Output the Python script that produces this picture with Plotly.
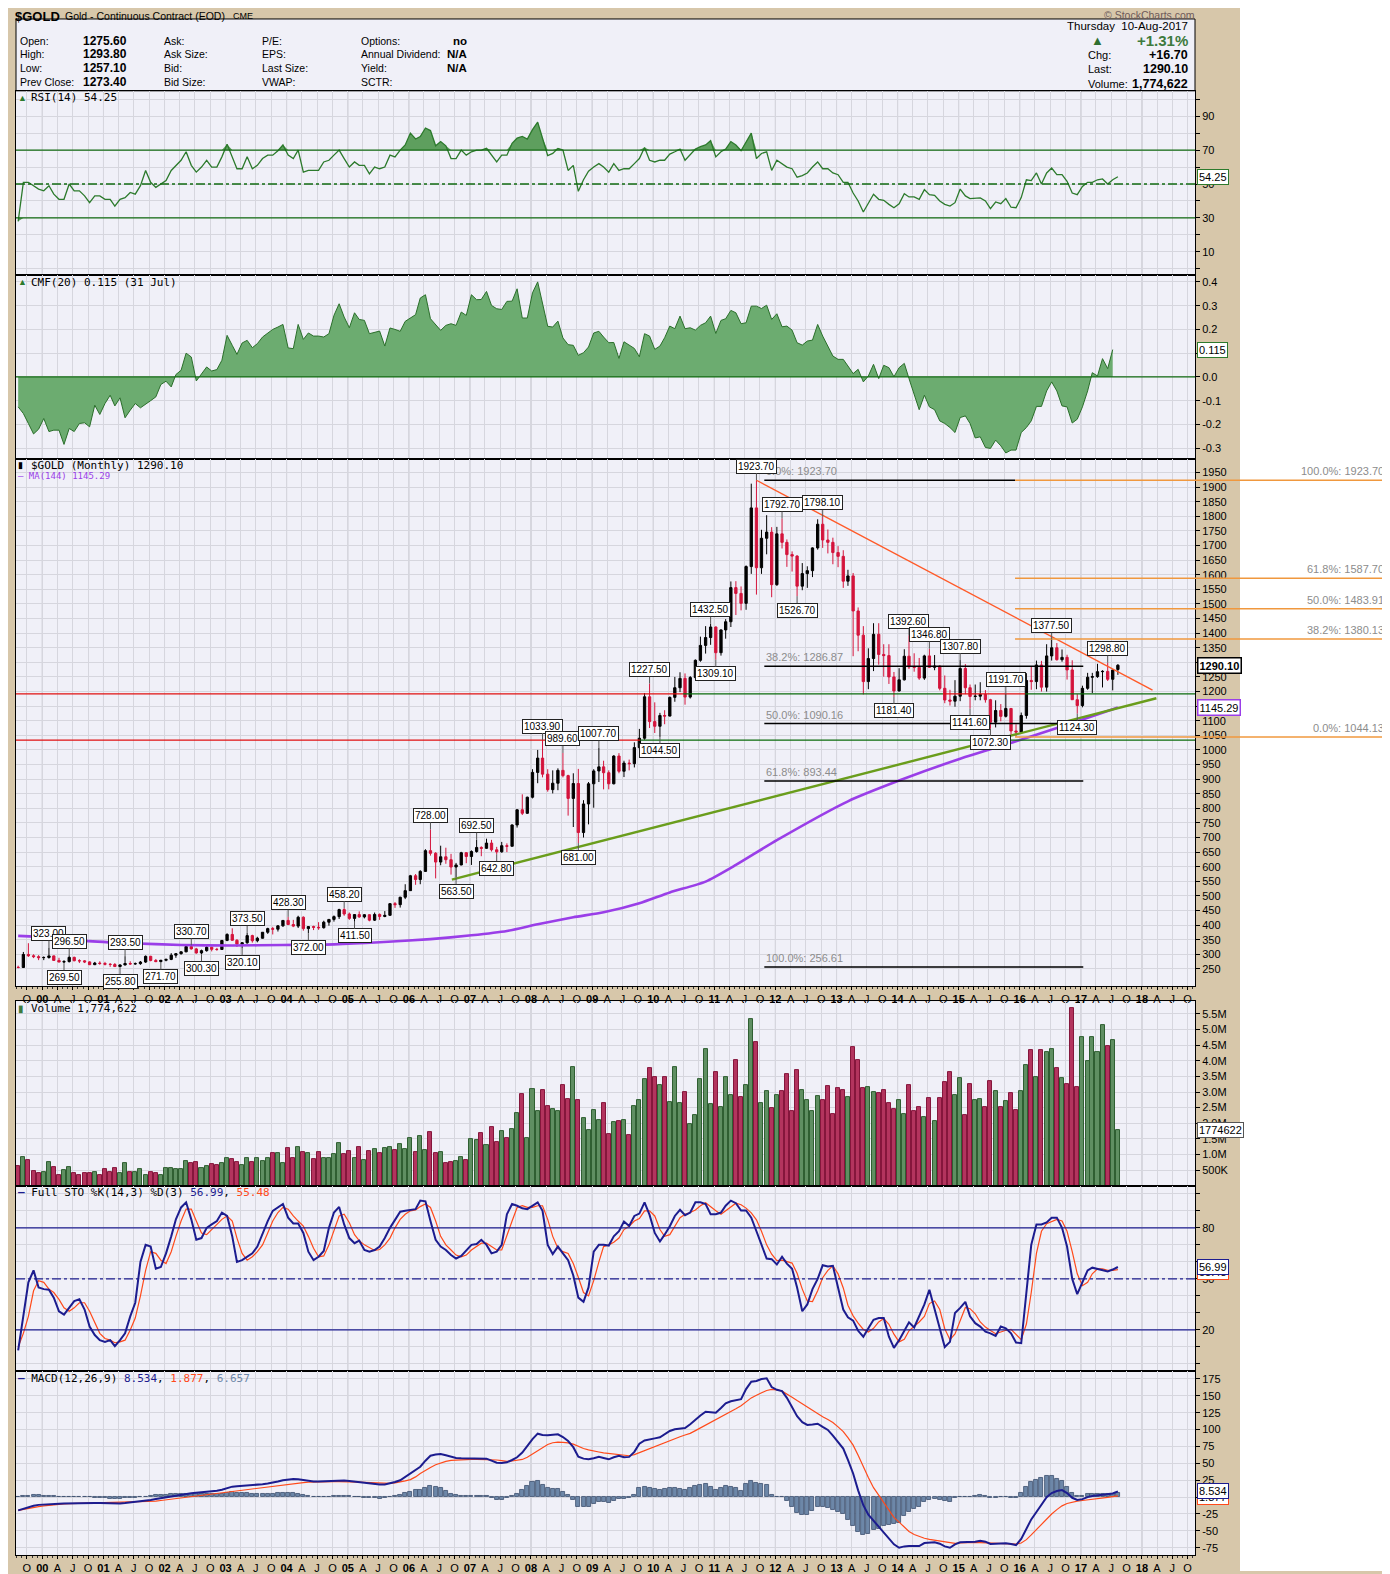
import numpy as np
import pandas as pd
import plotly.graph_objects as go
from plotly.subplots import make_subplots

# the page body adds an 8px margin, so the figure is laid out in page pixels minus that offset
OFF = 8
W, H = 1390 - OFF, 1574 - OFF
SANS = "Liberation Sans, Arial, sans-serif"
MONO = "DejaVu Sans Mono, monospace"


def fx(x):
    return (x - OFF) / W


def fy(y):
    return 1 - (y - OFF) / H


# ---------------- data: $GOLD monthly bars, Aug 1999 .. Aug 2017 ----------------
months = pd.date_range("1999-08-01", "2017-08-01", freq="MS") + pd.Timedelta(days=9)

opens = [
    255.5, 254.8, 299.5, 295.0, 292.0,
    288.5, 289.0, 294.5, 279.0, 273.5, 275.0, 289.5, 278.0, 277.5, 274.0, 264.5, 270.0,
    268.5, 266.0, 265.0, 258.0, 263.5, 268.5, 267.0, 268.0, 273.5, 293.0, 279.0, 275.0,
    279.5, 282.5, 297.0, 302.0, 308.5, 326.5, 318.5, 304.5, 312.5, 324.0, 317.0, 316.5,
    347.5, 368.0, 348.0, 335.0, 339.5, 364.0, 346.5, 355.0, 375.5, 388.0, 386.0, 397.5,
    416.0, 402.0, 396.5, 427.0, 388.0, 395.0, 392.5, 391.0, 410.0, 419.5, 429.0, 453.0,
    438.0, 423.0, 436.0, 428.0, 435.5, 417.0, 436.5, 429.5, 433.5, 473.5, 470.0, 495.5,
    518.0, 569.0, 556.0, 584.0, 655.0, 646.0, 616.0, 634.0, 624.0, 599.0, 606.0, 648.0,
    635.0, 652.0, 666.0, 663.0, 681.0, 658.0, 651.0, 672.0, 670.0, 743.0, 795.0, 783.0,
    838.0, 923.0, 972.0, 917.0, 864.0, 886.0, 930.0, 912.0, 834.0, 885.0, 717.0, 815.0,
    884.0, 928.0, 942.0, 922.0, 884.0, 979.0, 927.0, 955.0, 953.0, 1008.0, 1040.0, 1182.0,
    1097.0, 1081.0, 1118.0, 1116.0, 1180.0, 1213.0, 1245.0, 1181.0, 1248.0, 1307.0, 1358.0, 1385.0,
    1421.0, 1333.0, 1411.0, 1439.0, 1556.0, 1536.0, 1502.0, 1628.0, 1829.0, 1624.0, 1725.0, 1746.0,
    1566.0, 1740.0, 1711.0, 1669.0, 1664.0, 1561.0, 1604.0, 1614.0, 1692.0, 1773.0, 1719.0, 1711.0,
    1676.0, 1663.0, 1578.0, 1596.0, 1476.0, 1393.0, 1234.0, 1313.0, 1396.0, 1327.0, 1323.0, 1250.0,
    1202.0, 1240.0, 1321.0, 1284.0, 1283.0, 1246.0, 1322.0, 1283.0, 1287.0, 1211.0, 1171.0, 1167.0,
    1184.0, 1279.0, 1213.0, 1183.0, 1184.0, 1190.0, 1172.0, 1095.0, 1135.0, 1115.0, 1142.0, 1065.0,
    1061.0, 1118.0, 1238.0, 1234.0, 1291.0, 1215.0, 1322.0, 1350.0, 1309.0, 1317.0, 1274.0, 1172.0,
    1152.0, 1211.0, 1249.0, 1251.0, 1268.0, 1269.0, 1242.0, 1275.6,
]
highs = [
    261, 308, 338, 300, 297,
    293, 323, 296, 288, 280, 296.5, 292, 283, 280, 276, 274, 276,
    274, 270, 270, 266, 293.5, 276, 272, 277, 296, 295, 284, 281,
    285, 304, 304, 310, 330, 330.7, 322, 316, 328, 326, 322, 349,
    372, 389, 352, 341, 373.5, 367, 360, 376, 391, 394, 400, 417,
    428.3, 418, 432, 430, 396, 398, 410, 415, 420, 433, 456, 458.2,
    443, 438, 447, 438, 437, 443, 440, 448, 475, 479, 497, 540,
    572, 575, 588, 660, 728, 650, 672, 665, 644, 613, 651, 650,
    656, 692.5, 670, 696, 692, 668, 685, 680, 745, 797, 848, 840,
    934, 1000, 1033.9, 934, 930, 937, 989.6, 915, 920, 935, 828, 890,
    934, 1007.7, 963, 930, 982, 989, 963, 967, 1026, 1072, 1195, 1227.5,
    1163, 1127, 1136, 1183, 1250, 1266, 1262, 1253, 1310, 1388, 1424, 1432.5,
    1423, 1413, 1448, 1577, 1578, 1560, 1632, 1912, 1923.7, 1754, 1804, 1763,
    1764, 1792.7, 1721, 1680, 1667, 1640, 1629, 1694, 1790, 1798.1, 1755, 1727,
    1698, 1684, 1617, 1606, 1488, 1424, 1348, 1434, 1434, 1362, 1362, 1267,
    1280, 1345, 1392.6, 1331, 1315, 1326, 1346.8, 1325, 1290, 1255, 1206, 1239,
    1307.8, 1294, 1224, 1224, 1232, 1205, 1175, 1170, 1157, 1191.7, 1143, 1088,
    1128, 1263, 1287, 1306, 1305, 1362, 1377.5, 1366, 1344, 1326, 1307, 1191,
    1220, 1264, 1264, 1295, 1273, 1298.8, 1275, 1293.8,
]
lows = [
    252, 253, 291, 287, 280,
    280, 285, 277, 273, 269.5, 272, 276, 270, 270, 263, 263, 264,
    262, 257, 256.5, 255.8, 262, 264, 264, 264, 270.5, 276, 273, 271.7,
    276, 280, 288, 299, 307, 316, 302, 300.3, 309, 310, 312, 316,
    345, 346, 325, 320.1, 336, 340, 341, 354, 370, 368, 378, 394,
    400, 393, 390, 381, 372, 383, 384, 388, 398, 412, 421, 432,
    418, 411.5, 425, 423, 413, 414, 418, 427, 433, 459, 460, 489,
    518, 538, 540, 582, 638, 560, 605, 610, 573, 563.5, 605, 612,
    606, 648, 636, 661, 652, 642.8, 648, 650, 670, 734, 777, 781,
    834, 886, 906, 857, 851, 862, 906, 775, 736, 681, 700, 745,
    802, 890, 865, 865, 882, 920, 907, 930, 940, 1003, 1035, 1075,
    1058, 1044.5, 1088, 1115, 1165, 1198, 1155, 1176, 1242, 1302, 1330, 1360,
    1309.1, 1323, 1381, 1421, 1462, 1478, 1480, 1603, 1532, 1603, 1670, 1523,
    1562, 1690, 1627, 1611, 1526.7, 1547, 1555, 1592, 1686, 1692, 1673, 1636,
    1626, 1555, 1562, 1321, 1338, 1190, 1208, 1270, 1292, 1251, 1226, 1181.4,
    1200, 1238, 1277, 1268, 1240, 1240, 1281, 1273, 1204, 1160, 1152, 1148,
    1167, 1191, 1141.6, 1170, 1170, 1162, 1072.3, 1077, 1098, 1111, 1052, 1046,
    1060, 1107, 1206, 1208, 1200, 1200, 1306, 1306, 1302, 1241, 1171, 1124.3,
    1146, 1206, 1195, 1247, 1214, 1236, 1204, 1257.1,
]
closes = [
    254.8, 299.5, 295.0, 292.0, 288.5,
    289.0, 294.5, 279.0, 273.5, 275.0, 289.5, 278.0, 277.5, 274.0, 264.5, 270.0, 268.5,
    266.0, 265.0, 258.0, 263.5, 268.5, 267.0, 268.0, 273.5, 293.0, 279.0, 275.0, 279.5,
    282.5, 297.0, 302.0, 308.5, 326.5, 318.5, 304.5, 312.5, 324.0, 317.0, 316.5, 347.5,
    368.0, 348.0, 335.0, 339.5, 364.0, 346.5, 355.0, 375.5, 388.0, 386.0, 397.5, 416.0,
    402.0, 396.5, 427.0, 388.0, 395.0, 392.5, 391.0, 410.0, 419.5, 429.0, 453.0, 438.0,
    423.0, 436.0, 428.0, 435.5, 417.0, 436.5, 429.5, 433.5, 473.5, 470.0, 495.5, 518.0,
    569.0, 556.0, 584.0, 655.0, 646.0, 616.0, 634.0, 624.0, 599.0, 606.0, 648.0, 635.0,
    652.0, 666.0, 663.0, 681.0, 658.0, 651.0, 672.0, 670.0, 743.0, 795.0, 783.0, 838.0,
    923.0, 972.0, 917.0, 864.0, 886.0, 930.0, 912.0, 834.0, 885.0, 717.0, 815.0, 884.0,
    928.0, 942.0, 922.0, 884.0, 979.0, 927.0, 955.0, 953.0, 1008.0, 1040.0, 1182.0, 1097.0,
    1081.0, 1118.0, 1116.0, 1180.0, 1213.0, 1245.0, 1181.0, 1248.0, 1307.0, 1358.0, 1385.0, 1421.0,
    1333.0, 1411.0, 1439.0, 1556.0, 1536.0, 1502.0, 1628.0, 1829.0, 1624.0, 1725.0, 1746.0, 1566.0,
    1740.0, 1711.0, 1669.0, 1664.0, 1561.0, 1604.0, 1614.0, 1692.0, 1773.0, 1719.0, 1711.0, 1676.0,
    1663.0, 1578.0, 1596.0, 1476.0, 1393.0, 1234.0, 1313.0, 1396.0, 1327.0, 1323.0, 1250.0, 1202.0,
    1240.0, 1321.0, 1284.0, 1283.0, 1246.0, 1322.0, 1283.0, 1287.0, 1211.0, 1171.0, 1167.0, 1184.0,
    1279.0, 1213.0, 1183.0, 1184.0, 1190.0, 1172.0, 1095.0, 1135.0, 1115.0, 1142.0, 1065.0, 1061.0,
    1118.0, 1238.0, 1234.0, 1291.0, 1215.0, 1322.0, 1350.0, 1309.0, 1317.0, 1274.0, 1172.0, 1152.0,
    1211.0, 1249.0, 1251.0, 1268.0, 1269.0, 1242.0, 1273.4, 1290.1,
]
volume_m = [
    0.63, 0.92, 0.83, 0.47, 0.41,
    0.45, 0.77, 0.60, 0.35, 0.51, 0.60, 0.39, 0.35, 0.41, 0.41, 0.44, 0.35,
    0.53, 0.45, 0.57, 0.39, 0.74, 0.45, 0.45, 0.53, 0.33, 0.45, 0.41, 0.33,
    0.57, 0.57, 0.53, 0.53, 0.80, 0.72, 0.77, 0.57, 0.63, 0.69, 0.65, 0.72,
    0.89, 0.86, 0.77, 0.65, 0.89, 0.77, 0.89, 0.80, 0.89, 1.04, 1.04, 0.74,
    1.22, 0.89, 1.24, 1.08, 1.04, 0.86, 1.08, 0.89, 0.89, 1.00, 1.36, 1.02,
    1.10, 0.89, 1.24, 0.83, 1.12, 1.18, 1.04, 1.19, 1.24, 1.13, 1.34, 1.16,
    1.54, 1.08, 1.60, 1.13, 1.73, 1.04, 1.08, 0.74, 0.77, 0.79, 0.92, 0.83,
    1.50, 1.45, 1.69, 1.31, 1.87, 1.39, 1.75, 1.51, 1.81, 2.33, 2.93, 1.54,
    3.09, 2.38, 3.05, 2.55, 2.45, 2.38, 3.22, 2.78, 3.79, 2.74, 2.16, 1.78,
    2.42, 2.10, 2.66, 1.66, 2.04, 2.07, 2.10, 1.63, 2.55, 2.74, 3.40, 3.77,
    3.49, 3.23, 3.49, 2.68, 3.80, 2.66, 3.01, 1.96, 2.25, 3.40, 4.37, 2.61,
    3.64, 2.52, 3.49, 2.91, 4.03, 2.84, 3.23, 5.35, 4.60, 2.66, 3.04, 2.49,
    2.91, 3.04, 3.58, 2.40, 3.70, 3.06, 2.74, 2.38, 2.87, 2.73, 3.19, 2.28,
    3.13, 3.07, 2.85, 4.44, 4.03, 3.13, 3.17, 3.01, 2.96, 3.07, 2.66, 2.46,
    2.75, 2.28, 3.23, 2.40, 2.52, 2.19, 2.79, 2.08, 2.81, 3.32, 3.64, 2.91,
    3.43, 2.25, 3.26, 2.73, 2.78, 2.52, 3.35, 3.04, 2.52, 2.72, 2.97, 2.42,
    3.04, 3.85, 4.35, 3.49, 4.35, 4.29, 4.37, 3.76, 3.44, 3.26, 5.69, 3.16,
    4.76, 4.00, 4.76, 4.29, 5.14, 4.47, 4.67, 1.774622,
]
rsi14 = [
    28, 51, 51, 49, 47,
    46, 49, 44, 41, 41, 50, 46, 46, 43, 39, 43, 43,
    41, 41, 37, 41, 42, 45, 44, 49, 58, 51, 48, 50,
    52, 58, 61, 64, 69, 61, 57, 60, 64, 60, 60, 66,
    73.5, 66, 59, 59, 66, 59, 61, 65, 67, 67, 69.6, 73,
    67, 65, 70, 57, 58, 58, 58, 63, 64, 67, 70, 65,
    60, 63, 61, 61, 56, 60, 59, 60, 67, 66, 70, 73,
    80, 76.5, 78, 83, 81.5, 72.5, 75, 72.5, 65, 65, 70, 67,
    69, 70, 70, 71, 67, 63, 67, 67, 74, 77, 78, 76.5,
    82, 86.5, 77, 66.7, 68, 71, 70, 58, 61, 45.7, 52.5, 57.5,
    60, 62, 60, 57, 62, 58, 59, 59, 62, 65, 71.5, 64,
    63, 64, 64, 67.6, 69, 70.6, 64, 67, 70.6, 72, 73, 75.5,
    66, 69, 70.6, 75, 73, 69.6, 75, 80, 65, 68, 69, 58,
    64, 62, 60, 59, 54, 55, 56.5, 60, 63, 59, 59, 56.5,
    55.5, 51, 51, 44.7, 40, 33.5, 39, 44, 41, 40.4, 38, 36,
    38.4, 44.3, 42.4, 42.4, 41, 46.7, 43.7, 43.3, 40, 38, 37, 39,
    47, 43, 41.4, 41.4, 41.8, 40, 35.5, 39.4, 38.4, 41.4, 36.3, 36,
    42, 52.5, 52, 56.5, 50, 56.5, 59.4, 55.5, 55.5, 51.6, 44.7, 43.7,
    48.6, 51, 51, 52.5, 53, 50, 52.5, 54.25,
]
cmf20 = [  # ends 31 Jul 2017
    -0.126, -0.154, -0.196, -0.240, -0.220,
    -0.175, -0.230, -0.224, -0.224, -0.284, -0.217, -0.230, -0.196, -0.193, -0.210, -0.119, -0.158,
    -0.112, -0.077, -0.122, -0.088, -0.172, -0.140, -0.112, -0.130, -0.116, -0.100, -0.084, -0.032,
    -0.018, -0.042, 0.010, 0.028, 0.100, 0.084, -0.017, 0.014, 0.042, 0.025, 0.031, 0.070,
    0.175, 0.133, 0.095, 0.143, 0.154, 0.123, 0.140, 0.168, 0.185, 0.200, 0.210, 0.221,
    0.122, 0.119, 0.221, 0.158, 0.185, 0.172, 0.172, 0.168, 0.182, 0.259, 0.308, 0.252,
    0.207, 0.270, 0.242, 0.238, 0.182, 0.186, 0.193, 0.130, 0.206, 0.200, 0.192, 0.234,
    0.248, 0.262, 0.332, 0.346, 0.245, 0.221, 0.196, 0.217, 0.224, 0.217, 0.273, 0.259,
    0.346, 0.325, 0.326, 0.360, 0.301, 0.287, 0.284, 0.318, 0.319, 0.371, 0.248, 0.248,
    0.354, 0.400, 0.308, 0.213, 0.210, 0.235, 0.164, 0.136, 0.133, 0.091, 0.102, 0.126,
    0.185, 0.192, 0.168, 0.144, 0.145, 0.078, 0.148, 0.133, 0.120, 0.085, 0.182, 0.172,
    0.116, 0.130, 0.165, 0.214, 0.203, 0.256, 0.203, 0.207, 0.197, 0.217, 0.228, 0.256,
    0.183, 0.238, 0.245, 0.280, 0.270, 0.224, 0.228, 0.298, 0.298, 0.288, 0.302, 0.242,
    0.266, 0.211, 0.214, 0.197, 0.144, 0.134, 0.151, 0.155, 0.221, 0.172, 0.130, 0.088,
    0.074, 0.074, 0.046, 0.014, 0.032, -0.021, 0.004, 0.053, -0.007, 0.049, 0.039, 0.001,
    0.039, 0.057, -0.007, -0.069, -0.138, -0.077, -0.126, -0.138, -0.185, -0.196, -0.213, -0.234,
    -0.171, -0.164, -0.196, -0.257, -0.252, -0.297, -0.301, -0.266, -0.290, -0.320, -0.308, -0.308,
    -0.234, -0.213, -0.185, -0.124, -0.124, -0.059, -0.021, -0.059, -0.122, -0.126, -0.194, -0.178,
    -0.126, -0.059, 0.018, 0.004, 0.077, 0.035, 0.115,
]
sto_k = [
    8, 27, 48, 55, 45,
    44, 43.6, 39, 31, 29, 33, 37, 38, 32, 22, 17, 14,
    13, 14, 10.5, 14, 18, 28, 36, 60, 70, 69, 56, 57,
    65, 75, 85, 92, 95, 85, 73, 74, 80, 82, 84, 89,
    87, 75, 60, 61, 63, 65, 69, 77, 84, 90, 92, 94,
    86, 82.6, 82.6, 77, 66, 61, 63, 66.4, 80, 89, 92.3, 82,
    74, 71, 72.5, 67, 66, 67, 69, 74, 80, 85, 89.5, 90,
    90.5, 91, 96, 95.6, 84, 73, 69, 67, 64, 62, 63.5, 67,
    70, 70.5, 73, 70, 65, 66, 70, 88, 94, 93, 91.5, 91,
    93, 95, 90, 70, 64.6, 69, 65, 61, 52, 39, 36.5, 45,
    66, 70, 70, 69.6, 75, 78, 83.7, 81.1, 87, 88.4, 95, 87.6,
    77, 72, 76, 81, 87, 90.6, 87.4, 89, 95, 95, 94, 88,
    88, 89, 93, 96, 94.5, 90.2, 90.2, 86, 78, 70, 62, 61.6,
    58.5, 63, 59, 56, 45, 31, 35, 44, 50, 58, 57.3, 57.7,
    44, 32, 27.4, 25.5, 19.5, 16, 21, 26, 27, 27, 16, 9.5,
    14, 20, 24.5, 21.5, 28, 35, 43.6, 32, 20, 10, 13, 30,
    33, 36.5, 28, 24, 22, 19, 18, 16.5, 22, 21, 18, 12.6,
    12.2, 42, 70, 82, 82, 83.2, 86, 86, 80, 69, 50, 41,
    48, 55, 56.6, 56, 55, 54.4, 55.5, 56.99,
]
sto_d = [
    10, 18, 28, 43, 49,
    48, 44, 42, 38, 33, 31, 33, 36, 36, 31, 24, 18,
    15, 14, 12.5, 13, 14, 20, 27, 40, 55, 66, 65, 61,
    59, 66, 75, 84, 91, 91, 84, 77, 76, 79, 82, 85,
    87, 84, 74, 65, 61, 63, 66, 70, 77, 84, 89, 92,
    91, 87, 84, 81, 75, 68, 63, 63.5, 70, 78, 87, 88,
    83, 76, 72.5, 70, 68.5, 66.7, 67.3, 70, 74, 80, 85, 88,
    90, 90.5, 92.5, 94, 92, 84, 75, 70, 67, 64, 63, 64,
    67, 69, 71, 71, 69, 67, 67, 75, 84, 92, 93, 92,
    92, 93, 93, 85, 75, 68, 66, 65, 59, 51, 42, 40,
    49, 60, 69, 70, 71.5, 74, 79, 81, 84, 85.5, 90, 90,
    87, 79, 75, 76, 81, 86, 88, 89, 90.5, 93, 94.7, 92.3,
    90, 88, 90, 92.7, 94.5, 93.6, 91.6, 88.8, 84.7, 78, 70, 64.5,
    60.7, 61, 60.2, 59.3, 53.3, 44, 37, 36.7, 43, 50.7, 55, 57.7,
    53, 44.7, 34.5, 28.3, 24, 20.3, 18.8, 21, 24.7, 26.7, 23.3, 17.5,
    13, 14.5, 19.5, 22, 24.7, 28, 35.5, 37, 32, 20.7, 14.3, 17.7,
    25.3, 33.2, 32.5, 29.5, 24.7, 21.7, 19.7, 17.8, 18.8, 19.8, 20.3, 17.2,
    14.3, 23.5, 42, 65, 78, 82.4, 83.7, 85, 84, 78, 66, 53,
    46, 48, 53, 55.9, 55.9, 55.1, 55, 55.48,
]
macd_line = [
    -19.6, -17.0, -14.5, -12.8, -11.5,
    -10.8, -10.3, -10.0, -9.7, -9.5, -9.2, -9.0, -8.8, -8.7, -8.6, -8.6, -8.7,
    -9.0, -9.3, -9.6, -9.5, -8.8, -8.0, -7.2, -6.5, -5.5, -4.2, -2.8, -1.5,
    0.0, 1.5, 2.8, 3.8, 4.8, 5.8, 6.6, 7.2, 7.8, 8.5, 9.4, 11.0,
    13.5, 15.5, 16.0, 16.5, 17.0, 17.5, 18.2, 19.2, 20.2, 21.4, 23.0, 25.0,
    26.5, 26.9, 26.3, 25.0, 23.8, 23.0, 23.2, 23.6, 24.0, 24.5, 24.7, 24.5,
    24.0, 23.0, 22.0, 21.2, 20.3, 19.5, 18.8, 18.8, 20.5, 22.5, 25.0, 30.0,
    34.0, 40.0, 45.0, 54.0, 61.3, 63.0, 64.0, 62.0, 60.0, 58.0, 57.5, 57.5,
    57.5, 57.5, 57.5, 57.0, 54.0, 51.0, 50.5, 51.5, 55.0, 59.0, 66.0, 76.0,
    86.0, 94.0, 92.0, 91.5, 92.0, 93.0, 89.0, 83.0, 74.0, 60.0, 57.0, 56.0,
    57.5, 59.6, 58.0, 56.0, 59.0, 61.3, 59.0, 59.6, 67.0, 79.0, 84.0, 86.0,
    87.0, 88.6, 93.0, 98.0, 100.5, 101.5, 102.3, 108.0, 115.0, 121.0, 126.5, 126.0,
    125.0, 132.0, 139.0, 142.0, 144.0, 145.0, 160.0, 171.0, 172.0, 175.0, 176.0, 163.0,
    159.0, 157.0, 147.0, 133.0, 120.0, 111.0, 107.0, 107.7, 108.8, 104.0, 99.5, 91.0,
    82.0, 72.0, 55.0, 35.0, 10.0, -12.0, -26.0, -35.0, -44.0, -52.0, -61.0, -70.0,
    -75.0, -73.0, -72.5, -72.5, -72.5, -68.0, -67.0, -67.0, -69.0, -73.0, -75.0, -70.0,
    -67.0, -67.0, -67.0, -66.0, -64.5, -66.0, -69.5, -69.0, -68.0, -68.2, -69.5, -71.0,
    -62.0, -48.0, -33.0, -22.0, -12.0, 0.0, 6.0, 9.0, 10.5, 6.0, -1.0, -4.3,
    -3.0, 0.0, 1.5, 2.5, 3.5, 4.0, 5.5, 8.534,
]
macd_signal = [
    -19.6, -18.5, -17.0, -15.5, -14.2,
    -13.0, -12.0, -11.2, -10.6, -10.1, -9.8, -9.6, -9.4, -9.0, -8.6, -8.2, -7.9,
    -7.5, -7.2, -7.0, -7.0, -7.0, -7.0, -6.8, -6.7, -6.5, -6.3, -6.0, -5.0,
    -4.0, -3.0, -2.0, -1.2, -0.3, 0.5, 1.0, 2.0, 3.0, 4.0, 5.0, 6.0,
    7.0, 8.0, 9.0, 10.0, 11.0, 12.0, 13.0, 14.0, 15.0, 16.0, 17.0, 18.3,
    19.5, 20.3, 21.0, 21.6, 22.0, 22.4, 22.7, 23.0, 23.0, 23.0, 23.0, 23.0,
    22.8, 22.5, 22.2, 21.8, 21.4, 21.2, 20.8, 20.5, 20.3, 21.0, 22.0, 24.0,
    26.0, 30.0, 35.0, 40.0, 44.0, 48.0, 51.0, 53.0, 54.5, 55.0, 55.5, 55.8,
    55.8, 55.8, 55.8, 55.8, 55.8, 55.0, 54.0, 53.0, 53.5, 54.5, 55.8, 59.0,
    64.0, 69.5, 74.0, 78.0, 80.5, 81.5, 81.0, 80.4, 78.5, 75.0, 72.0, 70.0,
    68.0, 66.8, 65.5, 64.5, 64.0, 63.5, 62.0, 61.3, 63.0, 66.0, 69.0, 72.0,
    75.0, 78.0, 81.0, 84.5, 87.0, 89.5, 92.0, 94.5, 98.5, 102.5, 106.5, 110.5,
    114.0, 118.0, 122.5, 126.8, 131.0, 135.5, 141.0, 147.0, 151.0, 155.0, 158.0, 159.6,
    159.0, 157.0, 153.0, 148.0, 143.0, 138.0, 133.0, 128.0, 123.5, 119.0, 115.0, 110.5,
    104.0, 97.0, 88.0, 77.0, 62.0, 44.0, 29.0, 14.0, 2.5, -9.0, -20.0, -30.0,
    -37.0, -45.0, -51.0, -55.5, -58.5, -61.0, -62.7, -64.0, -65.5, -67.0, -68.2, -68.5,
    -68.0, -67.5, -67.1, -67.1, -67.3, -67.6, -68.2, -68.5, -68.7, -68.8, -69.0, -69.5,
    -68.0, -63.0, -56.0, -48.0, -40.0, -32.0, -25.0, -18.5, -13.0, -9.5, -7.5, -6.0,
    -5.0, -4.3, -3.5, -2.5, -1.5, -0.5, 0.8, 1.877,
]

# 144-month moving average
ma_dates = ["1999-08-10", "2000-02-10", "2000-09-10", "2001-06-10", "2002-04-10", "2003-02-10",
            "2003-12-10", "2004-10-10", "2005-07-10", "2006-05-10", "2007-01-10", "2007-08-10",
            "2008-02-10", "2008-09-10", "2009-03-10", "2009-10-10", "2010-04-10", "2010-11-10",
            "2011-05-10", "2012-01-10", "2013-03-10", "2014-01-10", "2015-01-10", "2015-12-10",
            "2016-11-10", "2017-08-10"]
ma144 = [363, 357, 346, 338, 332, 330, 332, 334, 341, 352, 365, 380, 403, 427, 444, 475, 512,
         549, 606, 691, 824, 895, 970, 1029.5, 1092, 1145.29]

# labelled swing highs / lows
high_marks = ["2000-02", "2000-06", "2001-05", "2002-06", "2003-05", "2004-01", "2004-12",
              "2006-05", "2007-02", "2008-03", "2008-07", "2009-02", "2009-12", "2010-12",
              "2011-09", "2012-02", "2012-10", "2014-03", "2014-07", "2015-01", "2015-10",
              "2016-07", "2017-06"]
low_marks = ["2000-05", "2001-04", "2001-12", "2002-08", "2003-04", "2004-05", "2005-02",
             "2006-10", "2007-06", "2008-10", "2010-02", "2011-01", "2012-05", "2013-12",
             "2015-03", "2015-07", "2016-12"]

# drawing tools on the price panel
down_dates, down_vals = ["2011-09-10", "2018-03-05"], [1923.7, 1205]
up_dates, up_vals = ["2006-09-15", "2018-03-28"], [556, 1177]
sr_levels = [1033.9, 1191.7]
sr_breaks = [["1999-07-28", "2009-10-15", "2018-11-14"],
             ["1999-07-28", "2010-06-28", "2014-09-29", "2016-02-03", "2018-11-14"]]
sr_colors = [["#e01010", "#0b6b0b"], ["#e01010", "#0b6b0b", "#e01010", "#0b6b0b"]]

fib_left_names = ["0.0%", "38.2%", "50.0%", "61.8%", "100.0%"]
fib_left_levels = [1923.70, 1286.87, 1090.16, 893.44, 256.61]
fib_left_start = "2011-10-27"
fib_left_ends = ["2015-12-04", "2017-01-15", "2017-01-15", "2017-01-15", "2017-01-15"]
fib_right_names = ["100.0%", "61.8%", "50.0%", "38.2%", "0.0%"]
fib_right_levels = [1923.70, 1587.70, 1483.91, 1380.13, 1044.13]
fib_right_start = "2015-12-04"

x_range = ["1999-07-28", "2018-11-14"]
qtr_ticks = pd.date_range("1999-10-01", "2018-10-01", freq="QS")
qtr_text = [f"<b>{d.year % 100:02d}</b>" if d.month == 1 else {4: "A", 7: "J", 10: "O"}[d.month]
            for d in qtr_ticks]
year_lines = pd.date_range("2000-01-01", "2018-01-01", freq="YS")

# ---------------- figure ----------------
n = len(months)
up = [c >= o for o, c in zip(opens, closes)]

fig = make_subplots(rows=6, cols=1, shared_xaxes=True, vertical_spacing=0)

# RSI
fig.add_trace(go.Scatter(x=months, y=[70] * n, mode="lines", line=dict(width=0)), row=1, col=1)
fig.add_trace(go.Scatter(x=months, y=np.maximum(rsi14, 70), mode="lines", line=dict(width=0),
                         fill="tonexty", fillcolor="#5e9f5e"), row=1, col=1)
fig.add_trace(go.Scatter(x=months, y=[30] * n, mode="lines", line=dict(width=0)), row=1, col=1)
fig.add_trace(go.Scatter(x=months, y=np.minimum(rsi14, 30), mode="lines", line=dict(width=0),
                         fill="tonexty", fillcolor="#5e9f5e"), row=1, col=1)
fig.add_trace(go.Scatter(x=months, y=rsi14, mode="lines", line=dict(color="#2c7a2c", width=1.3)),
              row=1, col=1)

# CMF
fig.add_trace(go.Scatter(x=months[:len(cmf20)], y=cmf20, mode="lines", fill="tozeroy",
                         fillcolor="#6cac70", line=dict(color="#2a6e2a", width=1)), row=2, col=1)

# price
fig.add_trace(go.Candlestick(
    x=months, open=opens, high=highs, low=lows, close=closes,
    increasing=dict(line=dict(color="black", width=1), fillcolor="black"),
    decreasing=dict(line=dict(color="#d4143c", width=1), fillcolor="#d4143c"),
    whiskerwidth=0), row=3, col=1)
fig.add_trace(go.Scatter(x=ma_dates, y=ma144, mode="lines",
                         line=dict(color="#9a3ee8", width=2.6, shape="spline", smoothing=0.6)),
              row=3, col=1)
fig.add_trace(go.Scatter(x=up_dates, y=up_vals, mode="lines",
                         line=dict(color="#6a9d1c", width=2.4)), row=3, col=1)
fig.add_trace(go.Scatter(x=down_dates, y=down_vals, mode="lines",
                         line=dict(color="#ff5a28", width=1.4)), row=3, col=1)

# volume
fig.add_trace(go.Bar(x=months, y=volume_m, width=24 * 86400000,
                     marker=dict(color=["#5f8f62" if u else "#b3345e" for u in up],
                                 line=dict(color=["#2f5f32" if u else "#85163c" for u in up],
                                           width=1))), row=4, col=1)

# Full stochastics
fig.add_trace(go.Scatter(x=months, y=sto_d, mode="lines", line=dict(color="#ff4a1a", width=1.2)),
              row=5, col=1)
fig.add_trace(go.Scatter(x=months, y=sto_k, mode="lines", line=dict(color="#1c1c8f", width=2)),
              row=5, col=1)

# MACD
hist = np.array(macd_line) - np.array(macd_signal)
fig.add_trace(go.Bar(x=months, y=hist, width=24 * 86400000,
                     marker=dict(color="#6d87a8", line=dict(color="#3c4f6e", width=0.8))),
              row=6, col=1)
fig.add_trace(go.Scatter(x=months, y=macd_signal, mode="lines",
                         line=dict(color="#ff4a1a", width=1.2)), row=6, col=1)
fig.add_trace(go.Scatter(x=months, y=macd_line, mode="lines",
                         line=dict(color="#1c1c8f", width=2)), row=6, col=1)

# ---------------- panels / axes ----------------
panels = {1: (91, 276), 2: (276, 460), 3: (460, 988), 4: (1003, 1188), 5: (1188, 1373.5),
          6: (1373.5, 1558)}
grid = "#d6d6de"
for r, (top, bot) in panels.items():
    sfx = "" if r == 1 else str(r)
    fig.layout["yaxis" + sfx].domain = [fy(bot), fy(top)]
    fig.layout["xaxis" + sfx].domain = [fx(16), fx(1195)]
    labelled = r in (3, 6)
    fig.update_xaxes(row=r, col=1, range=x_range, tickvals=qtr_ticks, ticktext=qtr_text,
                     showgrid=True, gridcolor=grid, gridwidth=1, showline=True, linecolor="black",
                     mirror=True, showticklabels=labelled, ticks="outside" if labelled else "",
                     ticklen=3, tickcolor="black", rangeslider_visible=False,
                     tickfont=dict(size=11, family=SANS, color="black"),
                     minor=dict(ticks="outside" if labelled else "", ticklen=2, dtick="M1",
                                tick0="2000-01-01", tickcolor="#333", showgrid=False))
    for yl in year_lines:
        fig.add_shape(type="line", xref="x" + sfx, yref=f"y{sfx} domain", x0=yl, x1=yl, y0=0,
                      y1=1, line=dict(color="#bcbcc4", width=1), layer="below")

price_ticks = list(range(250, 1951, 50))
yspec = {
    1: dict(range=[-3.9, 104.9], tickvals=list(range(0, 101, 10)),
            ticktext=[str(v) if v in (10, 30, 50, 70, 90) else "" for v in range(0, 101, 10)]),
    2: dict(range=[-0.346, 0.427], tickvals=[-0.3, -0.2, -0.1, 0, 0.1, 0.2, 0.3, 0.4],
            ticktext=["-0.3", "-0.2", "-0.1", "0.0", "0.1", "0.2", "0.3", "0.4"]),
    3: dict(range=[191, 1996], tickvals=price_ticks, ticktext=[str(v) for v in price_ticks]),
    4: dict(range=[0, 5.91], tickvals=[0.5 * k for k in range(1, 12)],
            ticktext=["500K"] + [f"{0.5 * k:.1f}M" for k in range(2, 12)]),
    5: dict(range=[-4.05, 104.75], tickvals=list(range(0, 101, 10)),
            ticktext=[str(v) if v in (20, 50, 80) else "" for v in range(0, 101, 10)]),
    6: dict(range=[-85.8, 187], tickvals=list(range(-75, 176, 25)),
            ticktext=[str(v) for v in range(-75, 176, 25)]),
}
for r, spec in yspec.items():
    fig.update_yaxes(row=r, col=1, side="right", showgrid=True, gridcolor=grid, zeroline=False,
                     showline=True, linecolor="black", mirror=True, ticks="outside", ticklen=4,
                     tickcolor="black", tickfont=dict(size=11, family=SANS, color="black"), **spec)

# reference lines
for v, dash in ((70, "solid"), (30, "solid"), (50, "dashdot")):
    fig.add_hline(y=v, row=1, col=1, line=dict(color="#126b12", width=1.3, dash=dash))
fig.add_hline(y=0, row=2, col=1, line=dict(color="#126b12", width=1.3))
for v, dash in ((80, "solid"), (20, "solid"), (50, "dashdot")):
    fig.add_hline(y=v, row=5, col=1, line=dict(color="#1c1c8f", width=1.2, dash=dash))

for lvl, brk, cols in zip(sr_levels, sr_breaks, sr_colors):
    for a, b, c in zip(brk[:-1], brk[1:], cols):
        fig.add_shape(type="line", xref="x3", yref="y3", x0=a, x1=b, y0=lvl, y1=lvl,
                      line=dict(color=c, width=1.2))

for name, lvl, end in zip(fib_left_names, fib_left_levels, fib_left_ends):
    fig.add_shape(type="line", xref="x3", yref="y3", x0=fib_left_start, x1=end, y0=lvl, y1=lvl,
                  line=dict(color="black", width=1.5))
    fig.add_annotation(xref="x3", yref="y3", x=fib_left_start, y=lvl, text=f"{name}: {lvl:.2f}",
                       showarrow=False, xanchor="left", yanchor="bottom", yshift=1,
                       font=dict(size=11, family=SANS, color="#8c8c8c"))
for name, lvl in zip(fib_right_names, fib_right_levels):
    fig.add_shape(type="line", xref="x3", yref="y3", x0=fib_right_start, x1=x_range[1], y0=lvl,
                  y1=lvl, line=dict(color="#f0983e", width=1.5))
    fig.add_shape(type="line", xref="paper", yref="y3", x0=fx(1195), x1=1.0, y0=lvl, y1=lvl,
                  line=dict(color="#f0983e", width=1.5))
    fig.add_annotation(xref="paper", yref="y3", x=fx(1386), y=lvl, text=f"{name}: {lvl:.2f}",
                       showarrow=False, xanchor="right", yanchor="bottom", yshift=1,
                       font=dict(size=11, family=SANS, color="#8c8c8c"))

# swing labels
pos = {d.strftime("%Y-%m"): i for i, d in enumerate(months)}
for marks, series, ay in ((high_marks, highs, -14), (low_marks, lows, 14)):
    for m in marks:
        i = pos[m]
        fig.add_annotation(xref="x3", yref="y3", x=months[i], y=series[i],
                           text=f"{series[i]:.2f}", showarrow=True, arrowhead=0, arrowwidth=1,
                           arrowcolor="#555", ax=0, ay=ay, bgcolor="white", bordercolor="#222",
                           borderwidth=1, borderpad=1,
                           font=dict(size=10, family=SANS, color="black"))

# ---------------- page furniture ----------------
fig.add_shape(type="rect", xref="paper", yref="paper", x0=fx(1240), x1=1, y0=0, y1=1,
              fillcolor="white", line_width=0, layer="below")
fig.add_shape(type="rect", xref="paper", yref="paper", x0=fx(16), x1=fx(1195), y0=fy(91),
              y1=fy(19), fillcolor="#f0f0f8", line=dict(color="black", width=1), layer="below")


def note(x, y, text, size=11, color="black", anchor="left", family=SANS, valign="middle"):
    fig.add_annotation(xref="paper", yref="paper", x=fx(x), y=fy(y), text=text,
                       showarrow=False, xanchor=anchor, yanchor=valign, borderpad=0,
                       font=dict(size=size, color=color, family=family))


def tag(yref, y, text, border, width=1):
    fig.add_annotation(xref="paper", yref=yref, x=fx(1197), y=y, text=text, showarrow=False,
                       xanchor="left", yanchor="middle", bgcolor="white", bordercolor=border,
                       borderwidth=width, borderpad=1,
                       font=dict(size=11, family=SANS, color="black"))


# title row sits right at the top edge of the figure
note(14, 8, "<b>$GOLD</b>", size=13, valign="top")
note(64, 9, "Gold - Continuous Contract (EOD)", size=10.5, valign="top")
note(232, 10, "CME", size=9, valign="top")
note(1196, 8, "© StockCharts.com", size=10.5, color="#6e5a5a", anchor="right", valign="top")

rows_y = [41, 54, 68, 82]
for y, a, b, c, d, e, f in zip(rows_y,
                               ["Open:", "High:", "Low:", "Prev Close:"],
                               ["1275.60", "1293.80", "1257.10", "1273.40"],
                               ["Ask:", "Ask Size:", "Bid:", "Bid Size:"],
                               ["P/E:", "EPS:", "Last Size:", "VWAP:"],
                               ["Options:", "Annual Dividend:", "Yield:", "SCTR:"],
                               ["no", "N/A", "N/A", ""]):
    note(19, y, a, size=10.5)
    note(128, y, f"<b>{b}</b>", size=12, anchor="right")
    note(163, y, c, size=10.5)
    note(261, y, d, size=10.5)
    note(360, y, e, size=10.5)
    if f:
        note(468, y, f"<b>{f}</b>", size=11.5, anchor="right")

note(1189, 26, "Thursday  10-Aug-2017", size=11.5, anchor="right")
note(1097, 41, "▲", size=13, color="#2f6f2f", anchor="center")
note(1189, 41, "<b>+1.31%</b>", size=15, color="#3d7a3d", anchor="right")
for y, lab, val in ((55, "Chg:", "+16.70"), (69, "Last:", "1290.10"), (84, "Volume:", "1,774,622")):
    note(1087, y, lab, size=11)
    note(1189, y, f"<b>{val}</b>", size=12.5, anchor="right")

# panel captions
note(17, 98, "▲", size=9, color="#2c7a2c")
note(30, 98, "RSI(14) 54.25", family=MONO)
note(17, 283, "▲", size=9, color="#2c7a2c")
note(30, 283, "CMF(20) 0.115 (31 Jul)", family=MONO)
note(17, 466, "▮", size=9)
note(30, 466, "$GOLD (Monthly) 1290.10", family=MONO)
note(17, 477, "<span style='color:#9a3ee8'>— MA(144) 1145.29</span>", size=9, family=MONO)
note(17, 1010, "▮", size=10, color="#3d7a3d")
note(30, 1010, "Volume 1,774,622", family=MONO)
note(17, 1195, "<span style='color:#1c1c8f'><b>—</b></span> Full STO %K(14,3) %D(3) "
     "<span style='color:#1c1c8f'>56.99</span>, <span style='color:#ff4a1a'>55.48</span>",
     family=MONO)
note(17, 1381, "<span style='color:#1c1c8f'><b>—</b></span> MACD(12,26,9) "
     "<span style='color:#1c1c8f'>8.534</span>, <span style='color:#ff4a1a'>1.877</span>, "
     "<span style='color:#6d87a8'>6.657</span>", family=MONO)

# last-value tags on the right axis
tag("y", rsi14[-1], "54.25", "#2c7a2c")
tag("y2", cmf20[-1], "0.115", "#2c7a2c")
tag("y3", closes[-1], "<b>1290.10</b>", "black", 1.5)
tag("y3", ma144[-1], "1145.29", "#9a3ee8", 1.5)
tag("y4", volume_m[-1], "1774622", "#555")
tag("y5", sto_d[-1] - 1.5, "55.48", "#ff4a1a")
tag("y5", sto_k[-1], "56.99", "#1c1c8f")
tag("y6", macd_signal[-1] - 2, "1.877", "#ff4a1a")
tag("y6", macd_line[-1], "8.534", "#1c1c8f")

fig.update_layout(width=W, height=H, margin=dict(l=0, r=0, t=0, b=0), paper_bgcolor="#d7c7aa",
                  plot_bgcolor="#f0f0f8", showlegend=False, hovermode=False, bargap=0,
                  font=dict(family=SANS, size=11, color="black"))

fig.write_html("out.html")
